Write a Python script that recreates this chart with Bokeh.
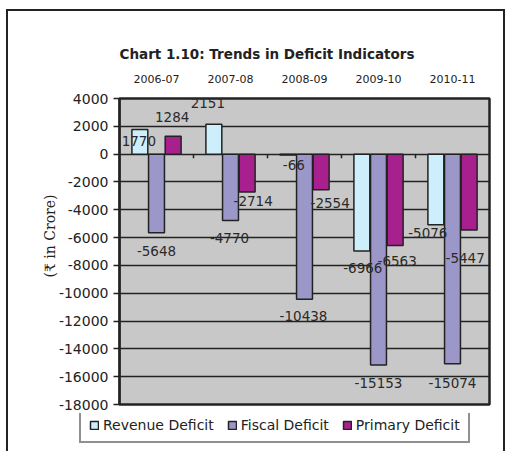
from bokeh.plotting import figure
from bokeh.layouts import column
from bokeh.models import (ColumnDataSource, FactorRange, Range1d, SingleIntervalTicker,
                          LabelSet, Legend, LegendItem, PrintfTickFormatter, Title)
from bokeh.transform import dodge
from bokeh.core.properties import value
from bokeh.embed import file_html
from bokeh.resources import INLINE

# ---- data ----
years = ["2006-07", "2007-08", "2008-09", "2009-10", "2010-11"]
revenue_deficit = [1770, 2151, -66, -6966, -5076]
fiscal_deficit = [-5648, -4770, -10438, -15153, -15074]
primary_deficit = [1284, -2714, -2554, -6563, -5447]
series_names = ["Revenue Deficit", "Fiscal Deficit", "Primary Deficit"]
title_text = "Chart 1.10: Trends in Deficit Indicators"
y_label = "(\u20b9 in Crore)"

# label nudges (pixels: right, down) as placed in the original
rev_dx = [-1, -6, 6, 1, -8]
rev_dy = [11, -21, 10, 17, 8]
fis_dx = [0, -1, -1, 0, 0]
fis_dy = [18, 18, 17, 18, 19]
pri_dx = [-1, 6, 9, 2, -4]
pri_dy = [-19, 9, 13, 16, 28]

colors = ["#cdeefb", "#9b97c9", "#a8208e"]
dark = "#222222"
font = "DejaVu Sans"

W = 505
H_MAIN = 413
H_LEG = 38

p = figure(width=W, height=H_MAIN, x_range=FactorRange(*years, range_padding=0),
           y_range=Range1d(-18000, 4000), x_axis_location="above",
           output_backend="svg", toolbar_location=None,
           min_border_left=119, min_border_right=16, min_border_top=98,
           min_border_bottom=9)
p.frame_align = False

p.border_fill_color = None
p.background_fill_color = "#c8c8c8"
p.outline_line_color = dark
p.outline_line_width = 2.5

# title
p.title.text = title_text
p.title.align = "left"
p.title.text_font = font
p.title.text_font_size = "13.5px"
p.title.text_font_style = "bold"
p.title.text_color = dark
p.title.standoff = 19

# axes
p.xgrid.visible = False
p.ygrid.grid_line_color = dark
p.ygrid.grid_line_width = 1.5
p.yaxis.ticker = SingleIntervalTicker(interval=2000)
p.yaxis.formatter = PrintfTickFormatter(format="%d")
p.yaxis.axis_line_color = dark
p.yaxis.axis_line_width = 2
p.yaxis.major_tick_out = 6
p.yaxis.major_tick_in = 0
p.yaxis.major_tick_line_color = dark
p.yaxis.major_tick_line_width = 1.5
p.yaxis.minor_tick_line_color = None
p.yaxis.major_label_text_font = font
p.yaxis.major_label_text_font_size = "14px"
p.yaxis.major_label_text_color = dark
p.yaxis.major_label_standoff = 5

p.xaxis.axis_line_color = None
p.xaxis.major_tick_line_color = None
p.xaxis.minor_tick_line_color = None
p.xaxis.major_label_text_font = font
p.xaxis.major_label_text_font_size = "11px"
p.xaxis.major_label_text_color = dark
p.xaxis.major_label_standoff = 10

src = ColumnDataSource(dict(
    year=years, rev=revenue_deficit, fis=fiscal_deficit, pri=primary_deficit,
    rev_t=[str(v) for v in revenue_deficit], fis_t=[str(v) for v in fiscal_deficit],
    pri_t=[str(v) for v in primary_deficit],
    rev_dx=rev_dx, rev_dy=[-d for d in rev_dy],
    fis_dx=fis_dx, fis_dy=[-d for d in fis_dy],
    pri_dx=pri_dx, pri_dy=[-d for d in pri_dy],
))

keys = ["rev", "fis", "pri"]
offsets = [-0.225, 0.0, 0.225]
bw = 0.215
for key, off, col in zip(keys, offsets, colors):
    p.vbar(x=dodge("year", off, range=p.x_range), top=key, bottom=0, width=bw,
           source=src, fill_color=col, line_color=dark, line_width=1.5)
    p.add_layout(LabelSet(x=dodge("year", off, range=p.x_range), y=key, text=key + "_t",
                          x_offset=key + "_dx", y_offset=key + "_dy", source=src,
                          text_align="center", text_baseline="middle",
                          text_font=value(font), text_font_size="13.5px",
                          text_color="#2a2a2a"))

# small tick marks on the zero line between categories
tsrc = ColumnDataSource(dict(b=years[:-1]))
p.segment(x0=dodge("b", 0.5, range=p.x_range), x1=dodge("b", 0.5, range=p.x_range),
          y0=0, y1=-300, source=tsrc, line_color=dark, line_width=1.5)

# y axis title (as a side title so it can be nudged)
ytitle = Title(text=y_label, align="left", offset=127, standoff=-5,
               text_font="DejaVu Serif", text_font_size="14px", text_font_style="normal",
               text_color=dark)
p.add_layout(ytitle, "left")

# ---- legend strip ----
q = figure(width=W, height=H_LEG, x_range=FactorRange(*years), y_range=Range1d(0, 1),
           x_axis_location=None, y_axis_location=None, title_location=None,
           output_backend="svg", toolbar_location=None, min_border=0)
q.frame_align = False
q.grid.visible = False
q.outline_line_color = None
q.border_fill_color = None
q.background_fill_color = None
leg_renderers = [q.vbar(x="year", top=key, width=bw, source=src, fill_color=c,
                        line_color=dark, line_width=1.5, visible=False)
                 for key, c in zip(keys, colors)]
legend = Legend(items=[LegendItem(label=n, renderers=[r]) for n, r in zip(series_names, leg_renderers)],
                orientation="horizontal", location=(79, 8), margin=0,
                glyph_width=10, glyph_height=10, label_standoff=4, spacing=13,
                padding=8, label_height=14, label_text_font=font, label_text_font_size="14px",
                label_text_color=dark, border_line_color=dark, border_line_width=2,
                background_fill_color="white", background_fill_alpha=1.0,
                inactive_fill_alpha=0.0)
q.add_layout(legend, "center")

layout = column(p, q, spacing=0,
                styles={"box-shadow": "inset 0 9px 0 0 #ffffff, inset 6px 0 0 0 #ffffff, "
                                      "inset 0 11px 0 0 #222222, inset 8px 0 0 0 #222222, "
                                      "inset -2px 0 0 0 #222222"})

open("out.html", "w").write(file_html(layout, INLINE))
